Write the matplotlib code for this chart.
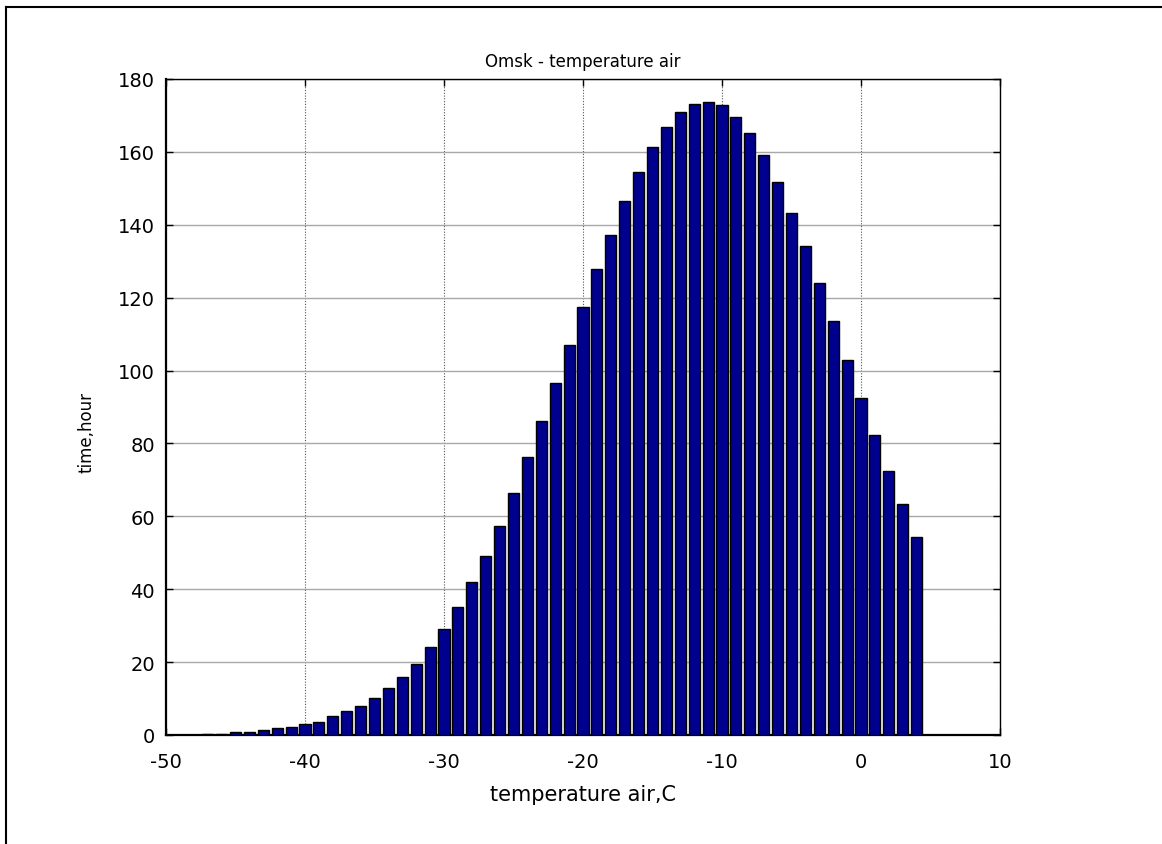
import numpy as np
import matplotlib.pyplot as plt
from matplotlib.lines import Line2D

plt.rcParams['font.family'] = ['DejaVu Sans']
plt.rcParams['axes.unicode_minus'] = False

# hours per 1-degree bin
temps = list(range(-47, 5))
hours = [0.4, 0.4, 0.9, 0.9, 1.4, 1.9, 2.3, 2.9, 3.7, 5.1,
         6.6, 7.9, 10.1, 12.8, 16.0, 19.5, 24.1, 29.1, 35.1, 42.0,
         49.2, 57.4, 66.5, 76.3, 86.2, 96.5, 107.0, 117.4, 127.8, 137.2,
         146.5, 154.6, 161.4, 166.8, 170.9, 173.2, 173.6, 172.9, 169.5, 165.1,
         159.2, 151.8, 143.2, 134.1, 124.0, 113.6, 102.8, 92.4, 82.3, 72.4,
         63.3, 54.3]

x_ticks = [-50, -40, -30, -20, -10, 0, 10]
y_ticks = list(range(0, 181, 20))

fig = plt.figure(figsize=(11.62, 8.45), dpi=100)
ax = fig.add_axes([166 / 1162, 1 - 736 / 845, 834 / 1162, 656 / 845])

ax.bar(temps, hours, width=0.8, color="#00008f", edgecolor="black", linewidth=1, zorder=3)

ax.set_xlim(-50, 10)
ax.set_ylim(0, 180)
ax.set_xticks(x_ticks)
ax.set_yticks(y_ticks)

# matlab-ish grid: dotted verticals, grey horizontals
ax.xaxis.grid(True, linestyle=(0, (1, 1.5)), color="#555555", linewidth=0.8)
ax.yaxis.grid(True, linestyle="-", color="#a8a8a8", linewidth=1)
ax.set_axisbelow(True)

ax.tick_params(direction="in", length=5, width=1, top=True, right=True, labelsize=14)
ax.tick_params(axis="x", pad=12)
ax.tick_params(axis="y", pad=8)
for side in ["top", "right"]:
    ax.spines[side].set_linewidth(1)
for side in ["left", "bottom"]:
    ax.spines[side].set_linewidth(1.6)

ax.set_title("Omsk - temperature air", fontsize=12, pad=9)
ax.set_xlabel("temperature air,C", fontsize=15)
ax.set_ylabel("time,hour", fontsize=12)
ax.xaxis.set_label_coords(0.5, -0.075)
ax.yaxis.set_label_coords(-0.085, 0.463)

# outer frame of the original screenshot
fig.add_artist(Line2D([6 / 1162, 6 / 1162], [0, 1 - 8 / 845], color="black", linewidth=1.5))
fig.add_artist(Line2D([6 / 1162, 1], [1 - 8 / 845, 1 - 8 / 845], color="black", linewidth=1.5))

fig.savefig("out.png", dpi=100)
